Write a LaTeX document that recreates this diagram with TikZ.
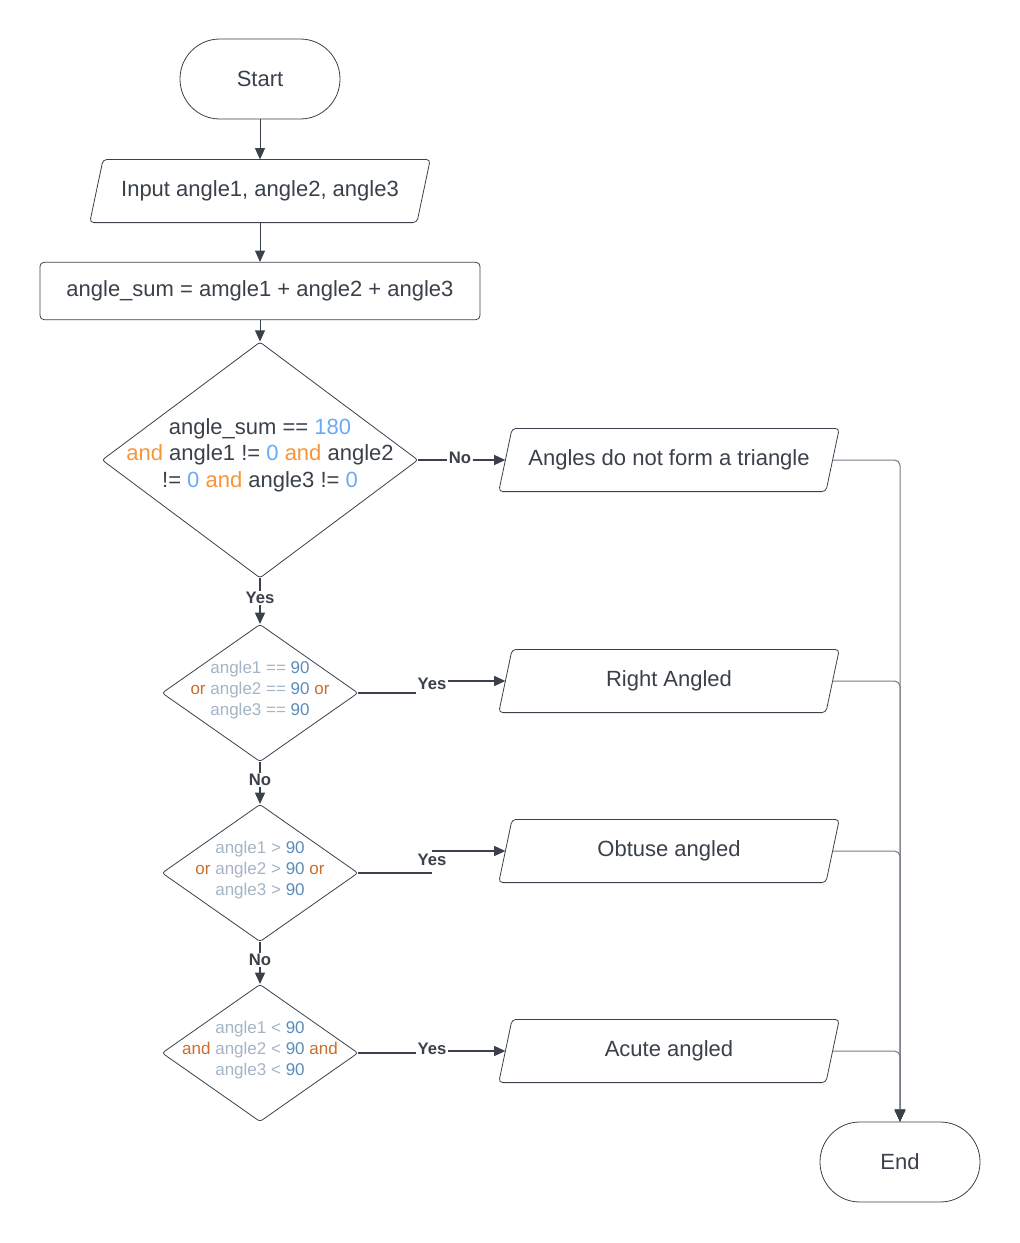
\documentclass[tikz,border=0pt]{standalone}
\usepackage{fontspec}
\setmainfont{Liberation Sans}
\usepackage{tikz}
\usetikzlibrary{shapes.geometric,arrows.meta}

\definecolor{inkdark}{HTML}{3A414A}
\definecolor{linegray}{HTML}{767C86}
\definecolor{orng}{HTML}{F8953A}
\definecolor{lblue}{HTML}{6AABF6}
\definecolor{paleblue}{HTML}{A5B4C6}
\definecolor{steel}{HTML}{5A8DBC}
\definecolor{rust}{HTML}{CC6D2C}

\begin{document}
\begin{tikzpicture}[x=0.75pt,y=-0.75pt]
    % --- DEFINE STYLES ---
    % Start / End ovals
    \tikzstyle{terminal} = [draw=inkdark, line width=0.6pt, rounded corners=29.9pt, minimum width=120pt, minimum height=60pt, text=inkdark, font=\fontsize{16.5}{19.8}\selectfont]
    % Input / output boxes (slanted outline drawn round the node)
    \tikzstyle{io_box} = [rectangle, minimum width=245pt, minimum height=47pt, text=inkdark, font=\fontsize{16.5}{19.8}\selectfont,
        append after command={\pgfextra{
            \draw[inkdark, line width=0.6pt, rounded corners=3pt]
                ([xshift=-5pt]\tikzlastnode.south west) -- ([xshift=5pt]\tikzlastnode.north west)
                -- ([xshift=5pt]\tikzlastnode.north east) -- ([xshift=-5pt]\tikzlastnode.south east) -- cycle;
        }}]
    % Process box
    \tikzstyle{proc_box} = [rectangle, draw=inkdark, line width=0.6pt, rounded corners=3pt, minimum width=330pt, minimum height=43pt, text=inkdark, font=\fontsize{16.5}{19.8}\selectfont]
    % Decisions (text goes in its own node)
    \tikzstyle{decision} = [diamond, draw=inkdark, line width=0.6pt, rounded corners=2pt, inner sep=0pt, minimum width=147pt, minimum height=103pt]
    \tikzstyle{big_decision} = [decision, minimum width=237pt, minimum height=177pt]
    \tikzstyle{dtext} = [align=center, inner sep=0pt, text=paleblue, font=\fontsize{12.75}{15.75}\selectfont]
    \tikzstyle{big_dtext} = [align=center, inner sep=0pt, text=inkdark, font=\fontsize{16.5}{19.9}\selectfont]
    % Branch labels
    \tikzstyle{tag} = [inner sep=1pt, text=inkdark, font=\bfseries\fontsize{12.5}{14}\selectfont]
    % Connectors
    \tikzstyle{flow} = [draw=inkdark, line width=0.75pt, -{Triangle[length=8.5pt,width=7.5pt]}]
    \tikzstyle{branch} = [draw=inkdark, line width=1.2pt]
    \tikzstyle{side_flow} = [draw=linegray, line width=0.75pt, rounded corners=4pt, -{Triangle[length=9pt,width=8pt,color=inkdark]}]

    \fill[white] (0,0) rectangle (1020,1243);
    \useasboundingbox (0,0) rectangle (1020,1243);

    % --- MAIN COLUMN ---
    \node[terminal] (start) at (260,79) {Start};
    \node[io_box] (inp) at (260,191) {Input angle1, angle2, angle3};
    \node[proc_box] (sum) at (260,291) {angle\_sum = amgle1 + angle2 + angle3};

    \node[big_decision] (d1) at (260,460) {};
    \node[big_dtext] (d1txt) at (260,455) {angle\_sum == \textcolor{lblue}{180}\\
        \textcolor{orng}{and} angle1 != \textcolor{lblue}{0} \textcolor{orng}{and} angle2\\
        != \textcolor{lblue}{0} \textcolor{orng}{and} angle3 != \textcolor{lblue}{0}};

    \node[decision] (d2) at (260,693) {};
    \node[dtext] (d2txt) at (260,690) {angle1 == \textcolor{steel}{90}\\
        \textcolor{rust}{or} angle2 == \textcolor{steel}{90} \textcolor{rust}{or}\\
        angle3 == \textcolor{steel}{90}};

    \node[decision] (d3) at (260,873) {};
    \node[dtext] (d3txt) at (260,870) {angle1 > \textcolor{steel}{90}\\
        \textcolor{rust}{or} angle2 > \textcolor{steel}{90} \textcolor{rust}{or}\\
        angle3 > \textcolor{steel}{90}};

    \node[decision] (d4) at (260,1053) {};
    \node[dtext] (d4txt) at (260,1050) {angle1 < \textcolor{steel}{90}\\
        \textcolor{rust}{and} angle2 < \textcolor{steel}{90} \textcolor{rust}{and}\\
        angle3 < \textcolor{steel}{90}};

    % --- RESULTS ---
    \node[io_box] (r1) at (669,460) {Angles do not form a triangle};
    \node[io_box] (r2) at (669,681) {Right Angled};
    \node[io_box] (r3) at (669,851) {Obtuse angled};
    \node[io_box] (r4) at (669,1051) {Acute angled};

    \node[terminal] (stop) at (900,1162) {End};

    % --- LABELS ---
    \node[tag] (no1) at (460,458) {No};
    \node[tag] (yes1) at (260,598) {Yes};
    \node[tag] (yes2) at (432,684) {Yes};
    \node[tag] (no2) at (260,780) {No};
    \node[tag] (yes3) at (432,860) {Yes};
    \node[tag] (no3) at (260,960) {No};
    \node[tag] (yes4) at (432,1049) {Yes};

    % --- CONNECTORS ---
    \draw[flow] (start) -- (inp);
    \draw[flow] (inp) -- (sum);
    \draw[flow] (sum) -- (d1);

    \draw[branch] (d1.east) -- (d1.east -| no1.west);
    \draw[flow, line width=1.2pt] (no1.east |- r1.west) -- (r1.west);
    \draw[branch] (d1.south) -- (yes1.north);
    \draw[flow, line width=1.2pt] (yes1.south) -- (d2.north);

    \draw[branch] (d2.east) -- (d2.east -| yes2.west);
    \draw[flow, line width=1.2pt] (yes2.east |- r2.west) -- (r2.west);
    \draw[branch] (d2.south) -- (no2.north);
    \draw[flow, line width=1.2pt] (no2.south) -- (d3.north);

    \draw[branch] (d3.east) -- (d3.east -| yes3.south);
    \draw[flow, line width=1.2pt] (yes3.north |- r3.west) -- (r3.west);
    \draw[branch] (d3.south) -- (no3.north);
    \draw[flow, line width=1.2pt] (no3.south) -- (d4.north);

    \draw[branch] (d4.east) -- (d4.east -| yes4.west);
    \draw[flow, line width=1.2pt] (yes4.east |- r4.west) -- (r4.west);

    % all results run into End
    \foreach \r in {r1,r2,r3,r4} {
        \draw[side_flow] (\r.east) -| (stop.north);
    }
\end{tikzpicture}
\end{document}
